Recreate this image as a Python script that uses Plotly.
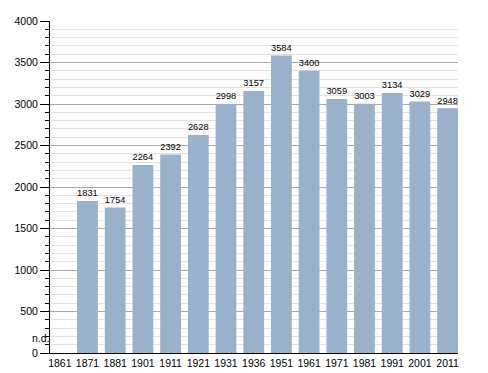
import plotly.graph_objects as go

years = ["1861", "1871", "1881", "1901", "1911", "1921", "1931", "1936", "1951", "1961", "1971", "1981", "1991", "2001", "2011"]
population = [None, 1831, 1754, 2264, 2392, 2628, 2998, 3157, 3584, 3400, 3059, 3003, 3134, 3029, 2948]
labels = ["" if v is None else str(v) for v in population]
missing_label = "n.d."
y_ticks = [0, 500, 1000, 1500, 2000, 2500, 3000, 3500, 4000]

FONT = "Liberation Sans, Arial, sans-serif"

fig = go.Figure(go.Bar(
    x=years, y=population, text=labels, textposition="outside",
    width=0.75,
    marker=dict(color="#9ab1cc", line=dict(width=0)),
    textfont=dict(size=10.5, color="#000000", family=FONT),
    cliponaxis=False,
))

fig.add_annotation(
    xref="paper", yref="y", x=0, y=95, text=missing_label, showarrow=False,
    xanchor="right", yanchor="bottom", xshift=1, borderpad=0,
    font=dict(size=10.5, color="#000000", family=FONT),
)

fig.update_layout(
    width=488, height=373,
    margin=dict(l=50, r=30, t=21, b=20),
    plot_bgcolor="white", paper_bgcolor="white",
    showlegend=False,
    font=dict(family=FONT, size=10.5, color="#000000"),
)
fig.update_xaxes(
    type="category", range=[-0.354, 14.375], automargin=False,
    showline=True, linecolor="black", linewidth=1,
    ticks="", showgrid=False, tickfont=dict(size=10.5),
)
fig.update_yaxes(
    range=[0, 4000], tickvals=y_ticks, automargin=False,
    showline=True, linecolor="black", linewidth=1,
    ticks="outside", ticklen=9, tickcolor="black",
    showgrid=True, gridcolor="#a8a8a8", gridwidth=1,
    zeroline=False, tickfont=dict(size=10.5),
    minor=dict(dtick=100, showgrid=True, gridcolor="#e2e2e2", ticks="outside", ticklen=4, tickcolor="black"),
)

fig.write_html(
    "out.html",
    config={"displayModeBar": False},
    post_script="document.body.style.margin='0';document.body.style.overflow='hidden';",
)
